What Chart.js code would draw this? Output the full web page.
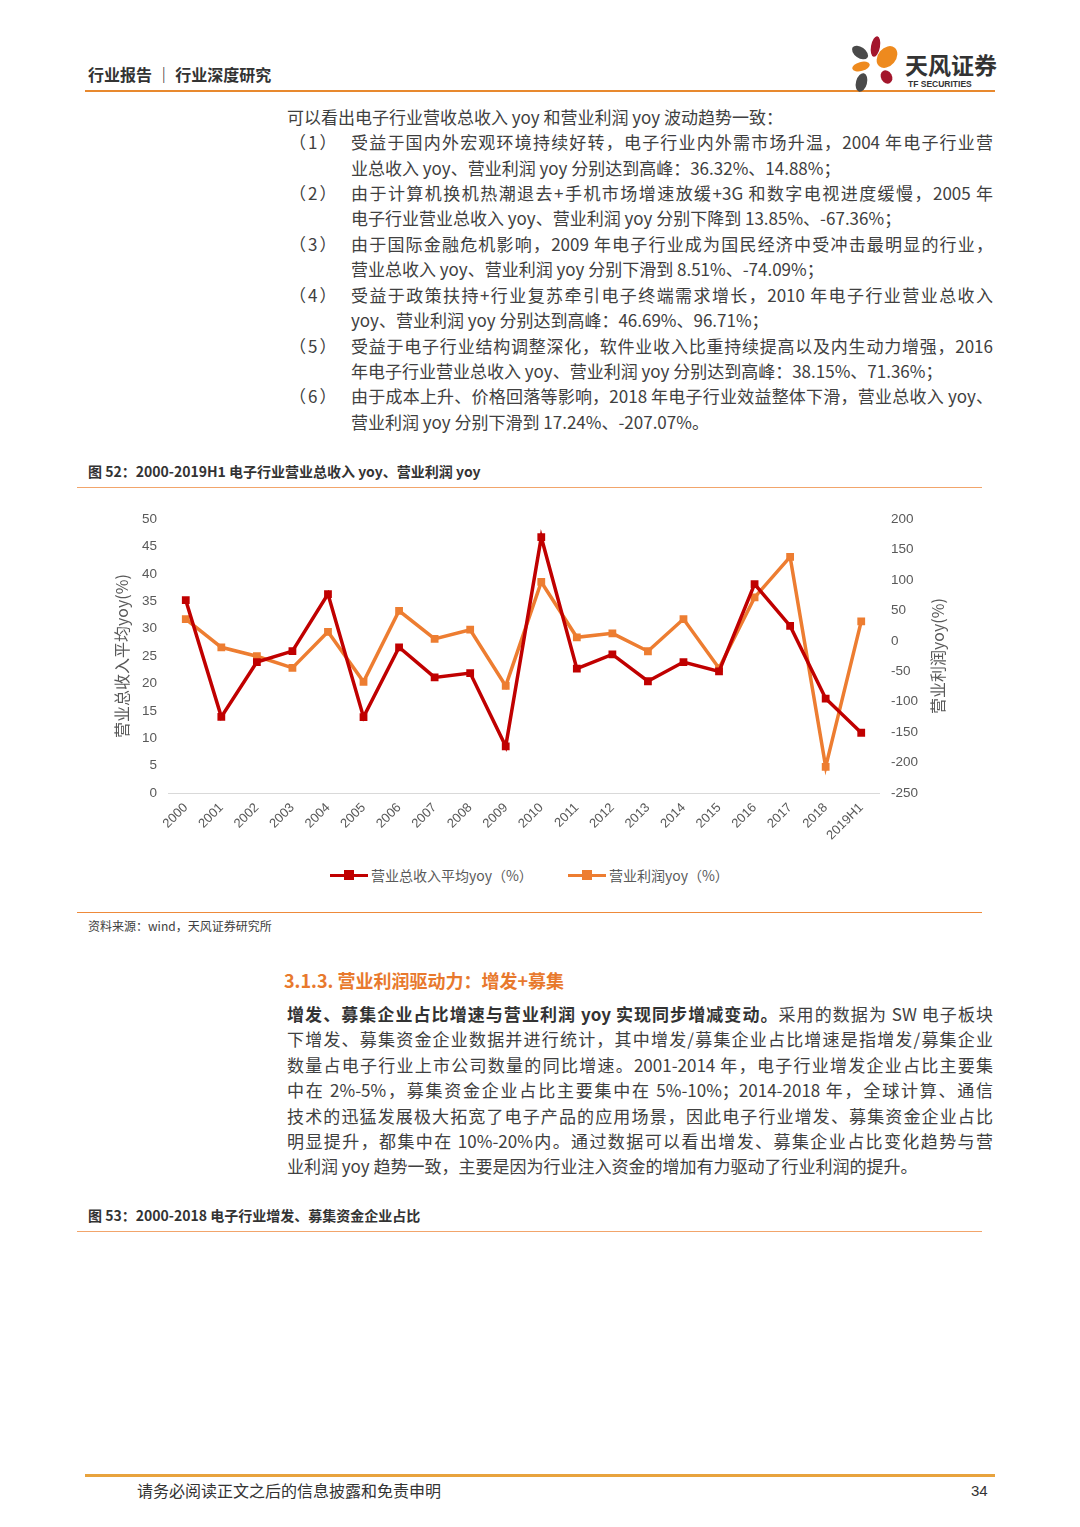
<!DOCTYPE html>
<html>
<head>
<meta charset="utf-8">
<script src="https://cdn.jsdelivr.net/npm/chart.js@4.4.1/dist/chart.umd.min.js"></script>
<style>
  html, body { margin:0; padding:0; background:#fff; }
  body { width:1080px; height:1527px; position:relative; overflow:hidden;
         font-family:"Noto Sans CJK SC","Noto Sans",sans-serif; color:#404040; }
  .abs { position:absolute; white-space:nowrap; line-height:1.2; }
  .line { position:absolute; height:26px; line-height:26px; font-size:17px; white-space:nowrap; }
  .num { letter-spacing:2px; }
  .just { text-align:justify; text-align-last:justify; }
  .rule { position:absolute; height:0; }
  .petal { position:absolute; border-radius:50%; }
  #chartBox { position:absolute; left:100px; top:499px; width:860px; height:360px; }
  .leg { position:absolute; top:864px; height:22px; line-height:22px; font-size:14px; color:#595959; }
  .leg i { position:absolute; top:10px; height:3px; width:38px; }
  .leg b { position:absolute; top:6px; width:10px; height:10px; }
</style>
</head>
<body>

<!-- header -->
<div class="abs" style="left:88px;top:65px;font-size:16px;font-weight:bold;color:#333;">行业报告 ｜ 行业深度研究</div>
<div class="rule" style="left:85px;top:90px;width:910px;border-top:2px solid #E8892E;"></div>
<div class="petal" style="left:871px;top:36px;width:9px;height:21px;background:#A3162C;transform:rotate(10deg);"></div>
<div class="petal" style="left:851px;top:47px;width:18px;height:11px;background:#4A4A4A;transform:rotate(35deg);"></div>
<div class="petal" style="left:878px;top:45px;width:18px;height:24px;background:#EE8A1E;transform:rotate(40deg);"></div>
<div class="petal" style="left:852px;top:62px;width:18px;height:9px;background:#EE8A1E;transform:rotate(-15deg);"></div>
<div class="petal" style="left:881px;top:70px;width:11px;height:14px;background:#A3162C;transform:rotate(-30deg);"></div>
<div class="petal" style="left:856px;top:73px;width:11px;height:19px;background:#4A4A4A;transform:rotate(15deg);"></div>
<div class="abs" style="left:905px;top:51px;font-size:23px;line-height:26px;font-weight:bold;color:#333;">天风证券</div>
<div class="abs" style="left:908px;top:79px;font-size:8.5px;line-height:10px;font-weight:bold;color:#333;font-family:'Liberation Sans',sans-serif;">TF SECURITIES</div>

<!-- first paragraph -->
<div class="line" style="left:287px;top:104px;">可以看出电子行业营收总收入 yoy 和营业利润 yoy 波动趋势一致：</div>
<div class="line num" style="left:289px;top:129px;">（1）</div>
<div class="line just" style="left:351px;top:129px;width:642px;">受益于国内外宏观环境持续好转，电子行业内外需市场升温，2004 年电子行业营</div>
<div class="line" style="left:351px;top:155px;">业总收入 yoy、营业利润 yoy 分别达到高峰：36.32%、14.88%；</div>
<div class="line num" style="left:289px;top:180px;">（2）</div>
<div class="line just" style="left:351px;top:180px;width:642px;">由于计算机换机热潮退去+手机市场增速放缓+3G 和数字电视进度缓慢，2005 年</div>
<div class="line" style="left:351px;top:205px;">电子行业营业总收入 yoy、营业利润 yoy 分别下降到 13.85%、-67.36%；</div>
<div class="line num" style="left:289px;top:231px;">（3）</div>
<div class="line just" style="left:351px;top:231px;width:642px;">由于国际金融危机影响，2009 年电子行业成为国民经济中受冲击最明显的行业，</div>
<div class="line" style="left:351px;top:256px;">营业总收入 yoy、营业利润 yoy 分别下滑到 8.51%、-74.09%；</div>
<div class="line num" style="left:289px;top:282px;">（4）</div>
<div class="line just" style="left:351px;top:282px;width:642px;">受益于政策扶持+行业复苏牵引电子终端需求增长，2010 年电子行业营业总收入</div>
<div class="line" style="left:351px;top:307px;">yoy、营业利润 yoy 分别达到高峰：46.69%、96.71%；</div>
<div class="line num" style="left:289px;top:333px;">（5）</div>
<div class="line just" style="left:351px;top:333px;width:642px;">受益于电子行业结构调整深化，软件业收入比重持续提高以及内生动力增强，2016</div>
<div class="line" style="left:351px;top:358px;">年电子行业营业总收入 yoy、营业利润 yoy 分别达到高峰：38.15%、71.36%；</div>
<div class="line num" style="left:289px;top:383px;">（6）</div>
<div class="line just" style="left:351px;top:383px;width:642px;">由于成本上升、价格回落等影响，2018 年电子行业效益整体下滑，营业总收入 yoy、</div>
<div class="line" style="left:351px;top:409px;">营业利润 yoy 分别下滑到 17.24%、-207.07%。</div>

<!-- figure 52 -->
<div class="abs" style="left:88px;top:463px;font-size:14px;font-weight:bold;color:#333;">图 52：2000-2019H1 电子行业营业总收入 yoy、营业利润 yoy</div>
<div class="rule" style="left:77px;top:487px;width:905px;border-top:1px solid #F2A56B;"></div>

<div id="chartBox"><canvas id="chart" width="860" height="360"></canvas></div>

<div class="leg" style="left:330px;width:220px;"><i style="left:0;background:#C00000;"></i><b style="left:14px;background:#C00000;"></b><span style="position:absolute;left:41px;">营业总收入平均yoy（%）</span></div>
<div class="leg" style="left:568px;width:180px;"><i style="left:0;background:#ED7D31;"></i><b style="left:14px;background:#ED7D31;"></b><span style="position:absolute;left:41px;">营业利润yoy（%）</span></div>

<div class="rule" style="left:77px;top:912px;width:905px;border-top:1px solid #EE8A3A;"></div>
<div class="abs" style="left:88px;top:919px;font-size:12px;color:#404040;">资料来源：wind，天风证券研究所</div>

<!-- section 3.1.3 -->
<div class="abs" style="left:284px;top:970px;font-size:18px;font-weight:bold;color:#E8792D;">3.1.3. 营业利润驱动力：增发+募集</div>

<div class="line just" style="left:287px;top:1001px;width:706px;"><span style="font-weight:bold;color:#333;">增发、募集企业占比增速与营业利润 yoy 实现同步增减变动。</span>采用的数据为 SW 电子板块</div>
<div class="line just" style="left:287px;top:1026px;width:706px;">下增发、募集资金企业数据并进行统计，其中增发/募集企业占比增速是指增发/募集企业</div>
<div class="line just" style="left:287px;top:1052px;width:706px;">数量占电子行业上市公司数量的同比增速。2001-2014 年，电子行业增发企业占比主要集</div>
<div class="line just" style="left:287px;top:1077px;width:706px;">中在 2%-5%，募集资金企业占比主要集中在 5%-10%；2014-2018 年，全球计算、通信</div>
<div class="line just" style="left:287px;top:1103px;width:706px;">技术的迅猛发展极大拓宽了电子产品的应用场景，因此电子行业增发、募集资金企业占比</div>
<div class="line just" style="left:287px;top:1128px;width:706px;">明显提升，都集中在 10%-20%内。通过数据可以看出增发、募集企业占比变化趋势与营</div>
<div class="line" style="left:287px;top:1153px;">业利润 yoy 趋势一致，主要是因为行业注入资金的增加有力驱动了行业利润的提升。</div>

<!-- figure 53 -->
<div class="abs" style="left:88px;top:1207px;font-size:14px;font-weight:bold;color:#333;">图 53：2000-2018 电子行业增发、募集资金企业占比</div>
<div class="rule" style="left:77px;top:1231px;width:905px;border-top:1px solid #F2A56B;"></div>

<!-- footer -->
<div class="rule" style="left:85px;top:1474px;width:910px;border-top:3px solid #E8A33D;"></div>
<div class="abs" style="left:137px;top:1481px;font-size:16px;color:#333;">请务必阅读正文之后的信息披露和免责申明</div>
<div class="abs" style="left:971px;top:1482px;font-size:15px;color:#333;font-family:'Liberation Sans',sans-serif;">34</div>

<script>
// categories and series
const years = ['2000','2001','2002','2003','2004','2005','2006','2007','2008','2009',
               '2010','2011','2012','2013','2014','2015','2016','2017','2018','2019H1'];
const revenueYoy = [35.2, 13.9, 23.9, 25.9, 36.32, 13.85, 26.6, 21.1, 21.9, 8.51,
                    46.69, 22.7, 25.3, 20.4, 23.9, 22.2, 38.15, 30.5, 17.24, 11.0];
const profitYoy  = [35.8, -10.6, -25.3, -44.4, 14.88, -67.36, 49.4, 3.1, 18.3, -74.09,
                    96.71, 5.8, 12.3, -17.1, 35.8, -45.0, 71.36, 137.8, -207.07, 32.0];
const leftTitle  = '营业总收入平均yoy(%)';
const rightTitle = '营业利润yoy(%)';

const RED = '#C00000', ORANGE = '#ED7D31', GREY = '#595959';
const tickFont = { family:'"Liberation Sans", Arial, sans-serif', size:13.5 };

// draw both axis titles rotated bottom-to-top
const axisTitles = {
  id: 'axisTitles',
  afterDraw(chart) {
    const ctx = chart.ctx, a = chart.chartArea;
    const cy = (a.top + a.bottom) / 2;
    ctx.save();
    ctx.fillStyle = GREY;
    ctx.font = '16px "Noto Sans CJK SC", sans-serif';
    ctx.textAlign = 'center';
    ctx.textBaseline = 'middle';
    [[22, leftTitle], [838, rightTitle]].forEach(function(t){
      ctx.save();
      ctx.translate(t[0], cy);
      ctx.rotate(-Math.PI / 2);
      ctx.fillText(t[1], 0, 0);
      ctx.restore();
    });
    ctx.restore();
  }
};

new Chart(document.getElementById('chart'), {
  type: 'line',
  data: {
    labels: years,
    datasets: [
      { label:'营业总收入平均yoy（%）', data: revenueYoy, yAxisID:'y',
        borderColor:RED, backgroundColor:RED, borderWidth:3.5,
        pointStyle:'rect', pointRadius:5.5, pointBorderWidth:0, tension:0 },
      { label:'营业利润yoy（%）', data: profitYoy, yAxisID:'y1',
        borderColor:ORANGE, backgroundColor:ORANGE, borderWidth:3.5,
        pointStyle:'rect', pointRadius:5.5, pointBorderWidth:0, tension:0 }
    ]
  },
  options: {
    responsive:false,
    animation:false,
    devicePixelRatio:1,
    layout:{ padding:{ top:7, left:0, right:0, bottom:0 } },
    plugins:{ legend:{ display:false }, tooltip:{ enabled:false } },
    scales:{
      x:{
        offset:true,
        grid:{ display:false, drawTicks:false },
        border:{ display:true, color:'#D9D9D9', width:1 },
        ticks:{ color:GREY, font:{ family:tickFont.family, size:13 }, autoSkip:false,
                minRotation:45, maxRotation:45, padding:7 },
        afterFit(s){ s.height = 66; }
      },
      y:{
        position:'left', min:0, max:50,
        grid:{ display:false, drawTicks:false }, border:{ display:false },
        ticks:{ stepSize:5, color:GREY, font:tickFont, padding:11 },
        afterFit(s){ s.width = 68; }
      },
      y1:{
        position:'right', min:-250, max:200,
        grid:{ display:false, drawTicks:false }, border:{ display:false },
        ticks:{ stepSize:50, color:GREY, font:tickFont, padding:12 },
        afterFit(s){ s.width = 81; }
      }
    }
  },
  plugins:[axisTitles]
});
</script>
</body>
</html>
